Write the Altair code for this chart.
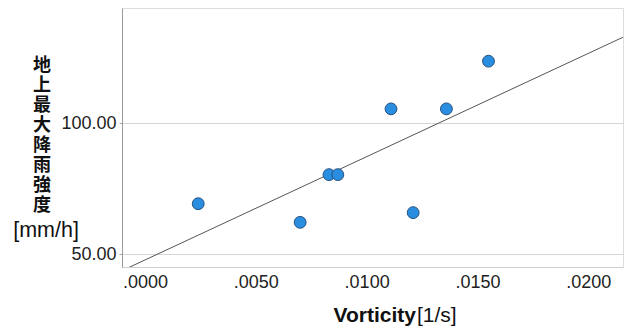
import altair as alt
import pandas as pd

vorticity = [0.0024, 0.0070, 0.0083, 0.0087, 0.0111, 0.0121, 0.0136, 0.0155]
rain = [69.3, 62.2, 80.4, 80.4, 105.5, 65.9, 105.5, 123.7]
x_ticks = [0.0, 0.005, 0.010, 0.015, 0.020]
y_ticks = [50, 100]
x_domain = [-0.00104, 0.02157]
y_domain = [45.15, 144.0]
y_title_chars = ["地", "上", "最", "大", "降", "雨", "強", "度"]

df = pd.DataFrame({"v": vorticity, "r": rain})

FONT = "Liberation Sans"
CJK = "Noto Sans CJK JP"

x_enc = alt.X(
    "v:Q",
    scale=alt.Scale(domain=x_domain, nice=False, zero=False),
    axis=alt.Axis(
        values=x_ticks,
        labelExpr="substring(format(datum.value, '.4f'), 1)",
        title=None,
        grid=False,
        ticks=False,
        domainColor="#d0d0d0",
        labelFont=FONT,
        labelFontSize=18,
        labelColor="#222222",
        labelPadding=6,
    ),
)
y_enc = alt.Y(
    "r:Q",
    scale=alt.Scale(domain=y_domain, nice=False, zero=False),
    axis=alt.Axis(
        values=y_ticks,
        format=".2f",
        title=None,
        grid=True,
        gridColor="#d6d6d6",
        ticks=True,
        tickSize=3,
        tickColor="#aaaaaa",
        domainColor="#999999",
        labelFont=FONT,
        labelFontSize=18,
        labelColor="#222222",
        labelPadding=3,
    ),
)

base = alt.Chart(df)

line = base.transform_regression("v", "r", extent=x_domain).mark_line(
    color="#555555", strokeWidth=1, clip=True
).encode(x=x_enc, y=y_enc)

points = base.mark_circle(
    size=140, color="#2a8ee0", opacity=1, stroke="#23507e", strokeWidth=1
).encode(x=x_enc, y=y_enc)

layers = [line, points]

for i, ch in enumerate(y_title_chars):
    layers.append(
        alt.Chart(pd.DataFrame({"t": [ch]})).mark_text(
            font=CJK, fontSize=18, fontWeight="bold",
            baseline="middle", align="center", color="#111111"
        ).encode(text="t:N", x=alt.value(-80), y=alt.value(57.5 + 20 * i))
    )

yunit = alt.Chart(pd.DataFrame({"t": ["[mm/h]"]})).mark_text(
    font=FONT, fontSize=21.5, baseline="middle", align="center", color="#111111"
).encode(text="t:N", x=alt.value(-76), y=alt.value(223))

xtitle = alt.Chart(pd.DataFrame({"t": ["Vorticity"]})).mark_text(
    font=FONT, fontSize=21, fontWeight="bold", baseline="alphabetic", align="right", color="#111111"
).encode(text="t:N", x=alt.value(294), y=alt.value(314))

xunit = alt.Chart(pd.DataFrame({"t": ["[1/s]"]})).mark_text(
    font=FONT, fontSize=21, baseline="alphabetic", align="left", color="#111111"
).encode(text="t:N", x=alt.value(295), y=alt.value(314))

layers += [yunit, xtitle, xunit]

chart = alt.layer(*layers).properties(
    width=501,
    height=259,
    autosize=alt.AutoSizeParams(type="none"),
    padding={"left": 114, "top": 0, "right": 2, "bottom": 62},
).configure_view(stroke=None).configure(background="white")

chart.save("out.html", embed_options={"renderer": "svg", "actions": False})
